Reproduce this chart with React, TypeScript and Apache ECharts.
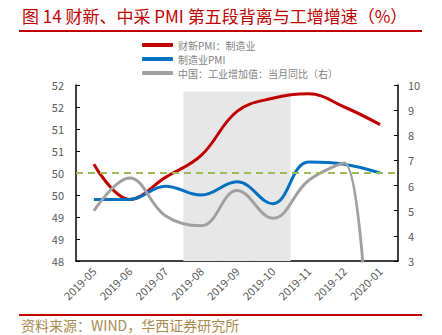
import React, { useEffect, useRef } from "react";
import * as echarts from "echarts";

const categories = ["2019-05", "2019-06", "2019-07", "2019-08", "2019-09", "2019-10", "2019-11", "2019-12", "2020-01"];
const caixinPMI = [50.2, 49.4, 49.9, 50.4, 51.4, 51.7, 51.8, 51.5, 51.1];
const officialPMI = [49.4, 49.4, 49.7, 49.5, 49.8, 49.3, 50.25, 50.2, 50.0];
const industryVA = [5.0, 6.3, 4.8, 4.4, 5.8, 4.7, 6.2, 6.9, -13.5];
const shade = [null, null, null, 51.85, 51.85, 51.85, null, null, null];

const nameRed = "财新PMI：制造业";
const nameBlue = "制造业PMI";
const nameGray = "中国：工业增加值：当月同比（右）";

export default function App() {
  const ref = useRef<HTMLDivElement>(null);
  useEffect(() => {
    const chart = echarts.init(ref.current!, null, { renderer: "svg" });
    const font = "'Noto Sans CJK SC', 'Noto Sans', sans-serif";
    chart.setOption({
      animation: false,
      textStyle: { fontFamily: font },
      grid: { left: 76, right: 44, top: 85, bottom: 74 },
      legend: {
        orient: "vertical",
        left: 137,
        top: 35,
        itemWidth: 31,
        itemHeight: 4,
        itemGap: 4,
        icon: "roundRect",
        data: [nameRed, nameBlue, nameGray],
        textStyle: { fontSize: 10, color: "#7f7f7f", fontFamily: font },
      },
      xAxis: {
        type: "category",
        data: categories,
        boundaryGap: true,
        axisLine: { lineStyle: { color: "#000", width: 1.5 } },
        axisTick: { inside: true, length: 4, lineStyle: { color: "#000" } },
        axisLabel: { rotate: 45, fontSize: 11, color: "#595959", margin: 8 },
      },
      yAxis: [
        {
          type: "value",
          min: 48,
          max: 52,
          interval: 0.5,
          axisLine: { show: true, lineStyle: { color: "#000", width: 1.5 } },
          axisTick: { show: true, inside: true, length: 4, lineStyle: { color: "#000" } },
          axisLabel: { fontSize: 11, color: "#595959", margin: 12, formatter: (v: number) => String(Math.round(v)) },
          splitLine: { show: false },
        },
        {
          type: "value",
          min: 3,
          max: 10,
          interval: 1,
          position: "right",
          axisLine: { show: true, lineStyle: { color: "#000", width: 1.5 } },
          axisTick: { show: true, inside: true, length: 4, lineStyle: { color: "#000" } },
          axisLabel: { fontSize: 11, color: "#595959", margin: 10 },
          splitLine: { show: false },
        },
      ],
      series: [
        {
          name: "shade",
          type: "bar",
          data: shade,
          barWidth: "100%",
          barGap: "-100%",
          itemStyle: { color: "#e7e7e7" },
          silent: true,
          z: 0,
          markLine: {
            silent: true,
            symbol: "none",
            label: { show: false },
            lineStyle: { color: "#9bbb59", type: [7, 5], width: 2 },
            data: [{ yAxis: 50 }],
          },
        },
        {
          name: nameRed,
          type: "line",
          data: caixinPMI,
          smooth: 0.4,
          symbol: "none",
          itemStyle: { color: "#c00000" },
          lineStyle: { color: "#c00000", width: 3 },
          z: 3,
        },
        {
          name: nameBlue,
          type: "line",
          data: officialPMI,
          smooth: 0.4,
          symbol: "none",
          itemStyle: { color: "#0070c0" },
          lineStyle: { color: "#0070c0", width: 3 },
          z: 3,
        },
        {
          name: nameGray,
          type: "line",
          yAxisIndex: 1,
          data: industryVA,
          smooth: 0.4,
          symbol: "none",
          itemStyle: { color: "#a0a0a0" },
          lineStyle: { color: "#a0a0a0", width: 3 },
          z: 3,
        },
      ],
      graphic: [
        {
          type: "text",
          left: 22,
          top: 7,
          style: {
            text: "图 14 财新、中采 PMI 第五段背离与工增增速（%）",
            fontSize: 17,
            fill: "#c00000",
            fontFamily: font,
          },
        },
        {
          type: "line",
          shape: { x1: 19, y1: 31, x2: 422, y2: 31 },
          style: { stroke: "#c00000", lineWidth: 2 },
        },
        {
          type: "line",
          shape: { x1: 19, y1: 315, x2: 422, y2: 315 },
          style: { stroke: "#c00000", lineWidth: 2 },
        },
        {
          type: "text",
          left: 21,
          top: 318,
          style: {
            text: "资料来源：WIND，华西证券研究所",
            fontSize: 14,
            fill: "#a88a50",
            fontFamily: font,
          },
        },
      ],
    });
    return () => chart.dispose();
  }, []);
  return <div ref={ref} style={{ width: 442, height: 335, position: "absolute", left: 0, top: 0 }} />;
}
